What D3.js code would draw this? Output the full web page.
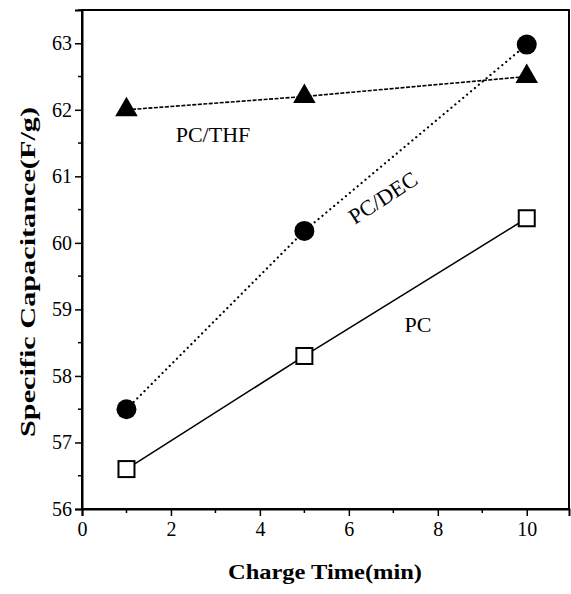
<!DOCTYPE html>
<html><head><meta charset="utf-8">
<script src="https://cdn.jsdelivr.net/npm/d3@7"></script>
<style>body{margin:0;background:#fff}svg{display:block}</style>
</head><body>
<script>
const xVals = [1, 5, 10];
const pcVals = [56.6, 58.3, 60.37];
const decVals = [57.5, 60.18, 62.98];
const thfVals = [62.0, 62.2, 62.5];
const xTicks = [0, 2, 4, 6, 8, 10];
const yTicks = [56, 57, 58, 59, 60, 61, 62, 63];

const W = 571, H = 594;
const svg = d3.select("body").append("svg").attr("width", W).attr("height", H);
const L = 82, R = 569, T = 10, B = 509;
const x = d3.scaleLinear().domain([0, 10.95]).range([L, R]);
const y = d3.scaleLinear().domain([56, 63.5]).range([B, T]);
const font = "'Liberation Serif','Times New Roman',serif";

// frame
svg.append("rect").attr("x", L).attr("y", T).attr("width", R - L).attr("height", B - T)
  .attr("fill", "none").attr("stroke", "#000").attr("stroke-width", 2);

// axes
const xAxis = d3.axisBottom(x).tickValues(xTicks).tickSize(7).tickPadding(6).tickFormat(d3.format("d"));
const gx = svg.append("g").attr("transform", `translate(0,${B})`).call(xAxis);
svg.append("g").selectAll("line").data(d3.range(1, 11, 2)).enter().append("line")
  .attr("x1", d => x(d)).attr("x2", d => x(d)).attr("y1", B).attr("y2", B + 4)
  .attr("stroke", "#000").attr("stroke-width", 1.5);
const yAxis = d3.axisLeft(y).tickValues(yTicks).tickSize(7).tickPadding(3).tickFormat(d3.format("d"));
const gy = svg.append("g").attr("transform", `translate(${L},0)`).call(yAxis);
svg.append("g").selectAll("line").data(d3.range(56.5, 63.6, 1)).enter().append("line")
  .attr("x1", L).attr("x2", L - 4).attr("y1", d => y(d)).attr("y2", d => y(d))
  .attr("stroke", "#000").attr("stroke-width", 1.5);
[gx, gy].forEach(g => {
  g.select(".domain").attr("stroke-width", 2);
  g.selectAll(".tick line").attr("stroke-width", 1.5);
  g.selectAll("text").attr("font-family", font).attr("font-size", 20).attr("fill", "#000");
});

// lines
const line = vals => d3.line().x((d, i) => x(xVals[i])).y(d => y(d))(vals);
svg.append("path").attr("d", line(pcVals)).attr("fill", "none").attr("stroke", "#000").attr("stroke-width", 1.5);
svg.append("path").attr("d", line(decVals)).attr("fill", "none").attr("stroke", "#000")
  .attr("stroke-width", 2.2).attr("stroke-dasharray", "0.1 5").attr("stroke-linecap", "round");
svg.append("path").attr("d", line(thfVals)).attr("fill", "none").attr("stroke", "#000")
  .attr("stroke-width", 1.6).attr("stroke-dasharray", "4 1.5");

// markers
svg.append("g").selectAll("rect").data(pcVals).enter().append("rect")
  .attr("x", (d, i) => x(xVals[i]) - 8).attr("y", d => y(d) - 8).attr("width", 16).attr("height", 16)
  .attr("fill", "#fff").attr("stroke", "#000").attr("stroke-width", 2);
svg.append("g").selectAll("circle").data(decVals).enter().append("circle")
  .attr("cx", (d, i) => x(xVals[i])).attr("cy", d => y(d)).attr("r", 10).attr("fill", "#000");
const tri = d3.symbol().type(d3.symbolTriangle).size(220);
svg.append("g").selectAll("path").data(thfVals).enter().append("path")
  .attr("d", tri).attr("transform", (d, i) => `translate(${x(xVals[i])},${y(d)})`).attr("fill", "#000");

// labels
const lbl = (t, px, py, rot) => svg.append("text").text(t)
  .attr("transform", `translate(${px},${py}) rotate(${rot || 0})`)
  .attr("font-family", font).attr("font-size", 22).attr("text-anchor", "middle");
lbl("PC/THF", 213, 142);
lbl("PC/DEC", 387, 204, -33);
lbl("PC", 418, 332);

svg.append("text").text("Charge Time(min)").attr("x", 325).attr("y", 579)
  .attr("font-family", font).attr("font-size", 22).attr("font-weight", "bold").attr("text-anchor", "middle")
  .attr("textLength", 194).attr("lengthAdjust", "spacingAndGlyphs");
svg.append("text").text("Specific Capacitance(F/g)")
  .attr("transform", `translate(35,272) rotate(-90)`)
  .attr("font-family", font).attr("font-size", 22).attr("font-weight", "bold").attr("text-anchor", "middle")
  .attr("textLength", 330).attr("lengthAdjust", "spacingAndGlyphs");
</script>
</body></html>
